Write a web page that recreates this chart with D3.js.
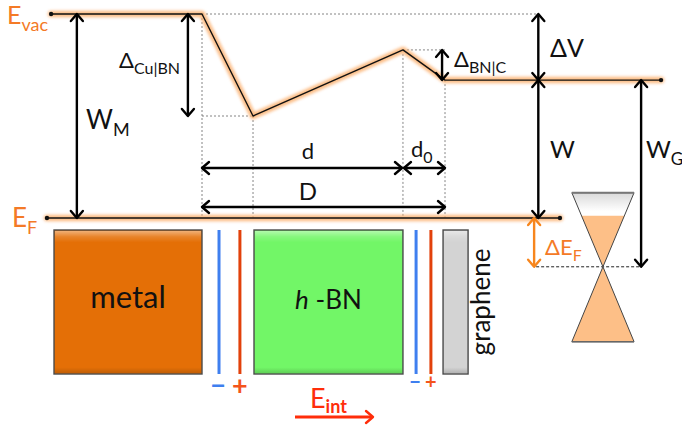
<!DOCTYPE html>
<html>
<head>
<meta charset="utf-8">
<script src="https://cdn.jsdelivr.net/npm/d3@7"></script>
<style>
  body { margin: 0; background: #fff; }
  svg { display: block; font-family: Lato, "Open Sans", sans-serif; }
</style>
</head>
<body>
<svg id="chart" width="682" height="432"></svg>
<script>
// Vacuum-level profile across metal | h-BN | graphene (position units, energy in eV above E_F)
const profileX = [-6.21, 0, 2.10, 8.27, 10, 18.89];
const profileE = [4.6, 4.6, 2.30, 3.79, 3.11, 3.11];

// Fermi level and Dirac point
const fermiE = 0;
const fermiX = [-6.38, 14.73];
const diracX = 16.5;
const diracE = -1.10;
const coneUp = 1.67;      // energy span of the upper cone
const coneDown = 1.69;    // energy span of the lower cone
const coneHalf = 1.28;    // half-width of the cone (position units)
const coneFill = 0.05;    // filling level of the upper cone

// Layers of the stack
const layerNames = ["metal", "h-BN", "graphene"];
const layerX0 = [-6.09, 2.14, 9.92];
const layerX1 = [0, 8.27, 10.95];
const layerColors = ["#e46f06", "#72f667", "#d3d3d3"];

// Interface dipole sheets (negative / positive)
const sheetX = [0.70, 1.56, 8.81, 9.42];
const sheetSign = ["−", "+", "−", "+"];

// Positions of the arrows for the measured quantities
const wmX = -5.15, dcuX = -0.58, dbnX = 9.92, dvX = 13.84, wgX = 18.07, defX = 13.75;

const svg = d3.select("#chart");
const x = d3.scaleLinear().domain([0, 10]).range([202, 445]);
const y = d3.scaleLinear().domain([0, 4.6]).range([218, 14]);

const orange = "#f47a26", blue = "#3f7fef", red = "#e2410b", fieldRed = "#ff2d0a";

const defs = svg.append("defs");
defs.append("filter").attr("id", "glow").attr("filterUnits", "userSpaceOnUse")
  .attr("x", 0).attr("y", 0).attr("width", 682).attr("height", 432)
  .append("feGaussianBlur").attr("stdDeviation", 1.4);
const shine = defs.append("linearGradient").attr("id", "shine").attr("x1", 0).attr("y1", 0).attr("x2", 0).attr("y2", 1);
shine.append("stop").attr("offset", "0").attr("stop-color", "#fff").attr("stop-opacity", 0.45);
shine.append("stop").attr("offset", "0.04").attr("stop-color", "#fff").attr("stop-opacity", 0.15);
shine.append("stop").attr("offset", "0.08").attr("stop-color", "#fff").attr("stop-opacity", 0);
shine.append("stop").attr("offset", "0.96").attr("stop-color", "#000").attr("stop-opacity", 0);
shine.append("stop").attr("offset", "1").attr("stop-color", "#000").attr("stop-opacity", 0.15);
const coneTop = defs.append("linearGradient").attr("id", "coneTop").attr("x1", 0).attr("y1", 0).attr("x2", 0).attr("y2", 1);
coneTop.append("stop").attr("offset", "0").attr("stop-color", "#d9d9d9");
coneTop.append("stop").attr("offset", "0.25").attr("stop-color", "#ffffff");

// ---- guide lines (dotted) ----
const guides = svg.append("g").attr("stroke", "#666").attr("stroke-width", 0.8).attr("stroke-dasharray", "2,2").attr("fill", "none");
const boxTop = 230, boxBottom = 374;
guides.append("line").attr("x1", x(profileX[1])).attr("x2", x(dvX)).attr("y1", y(profileE[1])).attr("y2", y(profileE[1]));
guides.append("line").attr("x1", x(profileX[1])).attr("x2", x(profileX[2])).attr("y1", y(profileE[2])).attr("y2", y(profileE[2]));
guides.append("line").attr("x1", x(profileX[3])).attr("x2", x(profileX[4])).attr("y1", y(profileE[3])).attr("y2", y(profileE[3]));
[[1, profileE[1]], [2, profileE[2]], [3, profileE[3]], [4, profileE[4]]].forEach(([i, e]) => {
  guides.append("line").attr("x1", x(profileX[i])).attr("x2", x(profileX[i]))
    .attr("y1", y(e)).attr("y2", y(fermiE));
});
guides.append("line").attr("x1", x(defX)).attr("x2", x(wgX)).attr("y1", y(diracE)).attr("y2", y(diracE))
  .attr("stroke", "#222").attr("stroke-dasharray", "3,2").attr("stroke-width", 1);

// ---- energy levels with glow ----
const line = d3.line().x(d => x(d[0])).y(d => y(d[1]));
const profile = profileX.map((v, i) => [v, profileE[i]]);
const fermi = fermiX.map(v => [v, fermiE]);
[profile, fermi].forEach(pts => {
  svg.append("path").attr("d", line(pts)).attr("fill", "none").attr("stroke", "#fbb272")
    .attr("stroke-width", 6.5).attr("stroke-linejoin", "round").attr("stroke-linecap", "round")
    .attr("opacity", 0.85).attr("filter", "url(#glow)");
  svg.append("path").attr("d", line(pts)).attr("fill", "none").attr("stroke", "#111")
    .attr("stroke-width", 1.4).attr("stroke-linejoin", "round");
  [pts[0], pts[pts.length - 1]].forEach(p => {
    svg.append("circle").attr("cx", x(p[0])).attr("cy", y(p[1])).attr("r", 2.2).attr("fill", "#111");
  });
});

// ---- arrows ----
function head(g, px, py, dir, color) {
  const s = 6, l = 7;
  let pts;
  if (dir === "up") pts = [[px - s, py + l], [px, py], [px + s, py + l]];
  if (dir === "down") pts = [[px - s, py - l], [px, py], [px + s, py - l]];
  if (dir === "left") pts = [[px + l, py - s], [px, py], [px + l, py + s]];
  if (dir === "right") pts = [[px - l, py - s], [px, py], [px - l, py + s]];
  g.append("polyline").attr("points", pts.map(p => p.join(",")).join(" "))
    .attr("fill", "none").attr("stroke", color).attr("stroke-width", 2.4).attr("stroke-linecap", "round").attr("stroke-linejoin", "round");
}
function vArrow(px, e1, e2, color = "#000", up = true, down = true) {
  const g = svg.append("g");
  const a = y(e1), b = y(e2);
  g.append("line").attr("x1", px).attr("x2", px).attr("y1", a).attr("y2", b).attr("stroke", color).attr("stroke-width", 2.4);
  if (up) head(g, px, a, "up", color);
  if (down) head(g, px, b, "down", color);
}
function hArrow(py, x1, x2, color = "#000") {
  const g = svg.append("g");
  g.append("line").attr("x1", x1).attr("x2", x2).attr("y1", py).attr("y2", py).attr("stroke", color).attr("stroke-width", 2.4);
  head(g, x1, py, "left", color);
  head(g, x2, py, "right", color);
}

vArrow(x(wmX), profileE[0], fermiE);
vArrow(x(dcuX), profileE[1], profileE[2]);
vArrow(x(dbnX) - 1, profileE[3], profileE[4]);
vArrow(x(dvX), profileE[1], profileE[4]);
vArrow(x(dvX), profileE[4], fermiE);
vArrow(x(wgX), profileE[4], diracE);
vArrow(x(defX) - 2, fermiE, diracE, "#f7861d");

hArrow(168, x(profileX[1]), x(profileX[3]) - 1);
hArrow(168, x(profileX[3]) + 1, x(profileX[4]));
hArrow(207, x(profileX[1]), x(profileX[4]));

// ---- labels ----
function label(tx, ty, main, sub, size, color = "#111", subSize = null, anchor = "start") {
  const t = svg.append("text").attr("x", tx).attr("y", ty).attr("fill", color)
    .attr("font-size", size).attr("text-anchor", anchor);
  t.append("tspan").text(main);
  if (sub) t.append("tspan").attr("font-size", subSize || size * 0.62).attr("dy", size * 0.28).text(sub);
  return t;
}
label(7, 24, "E", "vac", 25, orange, 18);
label(12, 227, "E", "F", 26, orange, 18);
label(86, 129, "W", "M", 26, "#111", 18);
label(119, 68, "Δ", "Cu|BN", 22, "#111", 16);
label(454, 67, "Δ", "BN|C", 22, "#111", 16);
label(550, 57, "ΔV", null, 25);
label(550, 158, "W", null, 24);
label(646, 158, "W", "G", 24, "#111", 17);
label(545, 255, "ΔE", "F", 22, orange, 16);
label(308, 159, "d", null, 22, "#111", null, "middle");
label(308, 200, "D", null, 24, "#111", null, "middle");
label(411, 157, "d", "0", 22, "#111", 16);

// ---- layer boxes ----
layerNames.forEach((name, i) => {
  const x0 = x(layerX0[i]), x1 = x(layerX1[i]);
  svg.append("rect").attr("x", x0).attr("y", boxTop).attr("width", x1 - x0).attr("height", boxBottom - boxTop)
    .attr("fill", layerColors[i]).attr("stroke", "#4a4a4a").attr("stroke-width", 1.4);
  svg.append("rect").attr("x", x0 + 1).attr("y", boxTop + 1).attr("width", x1 - x0 - 2).attr("height", boxBottom - boxTop - 2)
    .attr("fill", "url(#shine)");
});
svg.append("text").attr("x", (x(layerX0[0]) + x(layerX1[0])) / 2).attr("y", 308).attr("text-anchor", "middle")
  .attr("font-size", 31).attr("fill", "#111").text(layerNames[0]);
const hbn = svg.append("text").attr("x", (x(layerX0[1]) + x(layerX1[1])) / 2).attr("y", 309).attr("text-anchor", "middle")
  .attr("font-size", 26).attr("fill", "#111");
hbn.append("tspan").attr("font-style", "italic").text("h");
hbn.append("tspan").text(" -BN");
svg.append("text").attr("transform", `translate(${x(layerX1[2]) + 22},${(boxTop + boxBottom) / 2}) rotate(-90)`)
  .attr("text-anchor", "middle").attr("font-size", 26).attr("fill", "#111").text(layerNames[2]);

// ---- dipole sheets ----
sheetX.forEach((sx, i) => {
  const c = i % 2 === 0 ? blue : red;
  svg.append("line").attr("x1", x(sx)).attr("x2", x(sx)).attr("y1", boxTop).attr("y2", boxBottom)
    .attr("stroke", c).attr("stroke-width", 3);
  const big = i < 2;
  svg.append("text").attr("x", x(sx) + (i % 2 === 0 ? -1 : 0)).attr("y", big ? 395 : 389)
    .attr("text-anchor", "middle").attr("font-size", big ? 27 : 20).attr("font-weight", "bold")
    .attr("fill", i % 2 === 0 ? blue : "#f4541b").text(sheetSign[i]);
});

// ---- internal field ----
const eint = svg.append("text").attr("x", 310).attr("y", 408).attr("font-size", 27).attr("fill", fieldRed);
eint.append("tspan").text("E");
eint.append("tspan").attr("font-size", 18).attr("font-weight", "bold").attr("dy", 5).text("int");
svg.append("line").attr("x1", 295).attr("x2", 372).attr("y1", 417).attr("y2", 417).attr("stroke", fieldRed).attr("stroke-width", 2.8);
head(svg, 373, 417, "right", fieldRed);

// ---- Dirac cone ----
const cx = x(diracX), cy = y(diracE);
const hw = x(diracX + coneHalf) - cx;
const yTop = y(diracE + coneUp), yBot = y(diracE - coneDown), yFill = y(coneFill);
const fillHalf = hw * (yFill - cy) / (yTop - cy);
svg.append("polygon").attr("points", `${cx - hw},${yTop} ${cx + hw},${yTop} ${cx},${cy}`)
  .attr("fill", "url(#coneTop)");
svg.append("polygon").attr("points", `${cx - fillHalf},${yFill} ${cx + fillHalf},${yFill} ${cx},${cy}`)
  .attr("fill", "#fdbf87");
svg.append("polygon").attr("points", `${cx - hw},${yTop} ${cx + hw},${yTop} ${cx},${cy}`)
  .attr("fill", "none").attr("stroke", "#444").attr("stroke-width", 1);
svg.append("line").attr("x1", cx - hw).attr("x2", cx + hw).attr("y1", yTop).attr("y2", yTop).attr("stroke", "#777").attr("stroke-width", 2);
svg.append("polygon").attr("points", `${cx},${cy} ${cx - hw},${yBot} ${cx + hw},${yBot}`)
  .attr("fill", "#fdbf87").attr("stroke", "#444").attr("stroke-width", 1);
svg.append("line").attr("x1", cx - hw).attr("x2", cx + hw).attr("y1", yBot).attr("y2", yBot).attr("stroke", "#666").attr("stroke-width", 1.6);
</script>
</body>
</html>
